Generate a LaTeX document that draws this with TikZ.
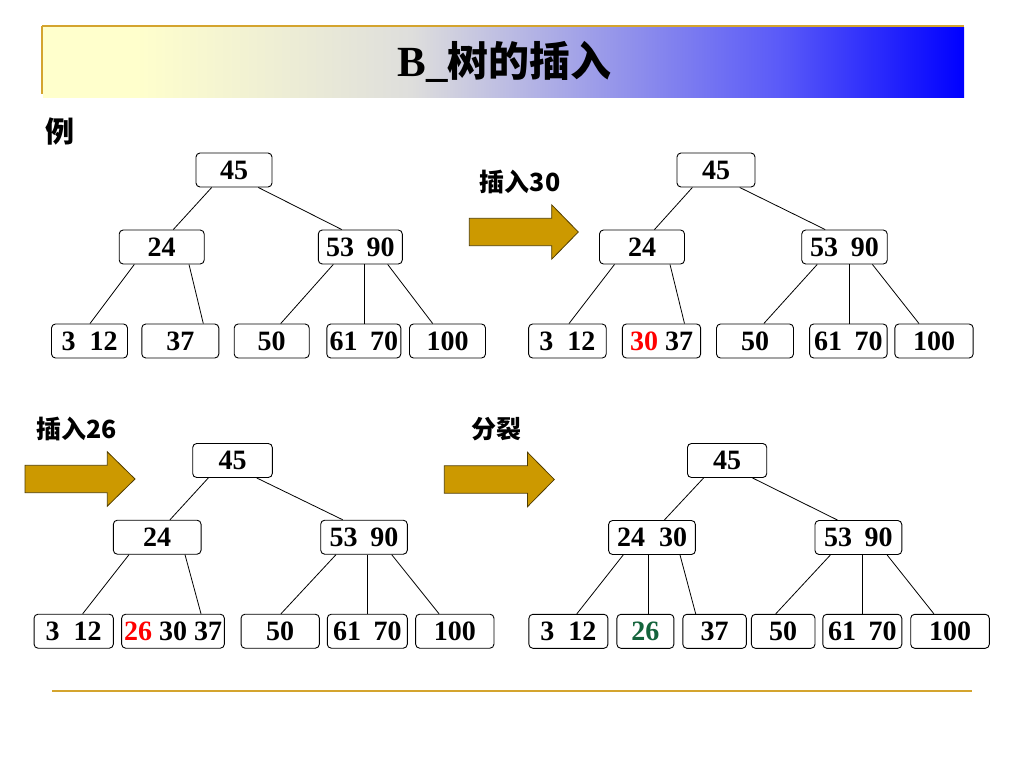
\documentclass[tikz,border=0pt]{standalone}
\usepackage{fontspec}
\setmainfont{Liberation Serif}
\newfontfamily\cjk{Noto Sans CJK SC}
\definecolor{goldline}{RGB}{212,164,46}
\definecolor{arrfill}{RGB}{204,153,0}
\definecolor{arrdraw}{RGB}{80,60,0}
\definecolor{newred}{RGB}{255,0,0}
\definecolor{newgreen}{RGB}{20,100,60}
\definecolor{tb0}{RGB}{255,255,204}
\definecolor{tb1}{RGB}{222,222,220}
\definecolor{tb2}{RGB}{140,140,236}
\definecolor{tb3}{RGB}{90,90,248}
\definecolor{tb4}{RGB}{0,0,255}
\pgfdeclarehorizontalshading{tbar}{100bp}{color(0bp)=(tb0); color(25bp)=(tb0); color(30bp)=(tb0); color(45bp)=(tb1); color(57.5bp)=(tb2); color(65bp)=(tb3); color(75bp)=(tb4); color(100bp)=(tb4)}
\newcommand\nf{\fontsize{28}{32}\selectfont\bfseries}
\newcommand\gap{\hspace{0.45em}}
\newcommand\wgap{\hspace{0.5em}}
\newcommand\edg[4]{\draw[link] ([xshift=#2pt]#1.south) -- ([xshift=#4pt]#3.north);}
\tikzset{
  key/.style={draw=black, line width=0.9pt, rounded corners=4pt, fill=white,
    minimum height=34pt, inner sep=0pt, font=\nf},
  link/.style={draw=black, line width=0.8pt},
  barrow/.style={fill=arrfill, draw=arrdraw, line width=0.8pt, line join=miter},
  lbl/.style={font=\cjk\bfseries\fontsize{25}{28}\selectfont, inner sep=0pt}
}
\begin{document}
\begin{tikzpicture}[x=1pt,y=-1pt]
\useasboundingbox (0,0) rectangle (1024,768);
% title bar
\shade[shading=tbar] (43,27.5) rectangle (964,97.7);
\draw[goldline, line width=2.5pt] (42,25.8) -- (964,25.8);
\draw[goldline, line width=2pt] (42,25.8) -- (42,94);
\node[inner sep=0pt] (title) at (504.5,62) {{\fontsize{43}{48}\selectfont\bfseries B\_}{\cjk\bfseries\fontsize{41}{48}\selectfont 树的插入}};
\node[font=\cjk\bfseries\fontsize{29}{32}\selectfont, inner sep=0pt] (li) at (60,131) {例};
% bottom line
\draw[goldline, line width=2pt] (52,691) -- (972,691);

% ---------- tree A ----------
\node[key, minimum width=76pt] (a45) at (234,170) {45};
\node[key, minimum width=85pt] (a24) at (161.7,247) {24};
\node[key, minimum width=84pt] (a53) at (360.3,247) {53\gap 90};
\node[key, minimum width=76pt] (a312) at (89.5,341) {3\wgap 12};
\node[key, minimum width=77pt] (a37) at (180.3,341) {37};
\node[key, minimum width=75pt] (a50) at (271.7,341) {50};
\node[key, minimum width=74pt] (a61) at (363.8,341) {61\gap 70};
\node[key, minimum width=76pt] (a100) at (447.5,341) {100};
\edg{a45}{-22.3}{a24}{11.6}
\edg{a45}{24.3}{a53}{-18.6}
\edg{a24}{-27.4}{a312}{0.5}
\edg{a24}{27.3}{a37}{23}
\edg{a53}{-27}{a50}{9}
\edg{a53}{4}{a61}{0.5}
\edg{a53}{27.4}{a100}{-14.8}

% arrow 1 + label
\draw[barrow] (469.3,232) ++(0,-13.7) -- ++(82.4,0) -- ++(0,-13.5) -- ++(26.6,27.2) -- ++(-26.6,27.2) -- ++(0,-13.5) -- ++(-82.4,0) -- cycle;
\node[lbl] (l30) at (520,182) {插入30};

% ---------- tree B ----------
\node[key, minimum width=78pt] (b45) at (716,170) {45};
\node[key, minimum width=85pt] (b24) at (642,247) {24};
\node[key, minimum width=85.5pt] (b53) at (844.5,247) {53\gap 90};
\node[key, minimum width=77.6pt] (b312) at (567.4,341) {3\wgap 12};
\node[key, minimum width=78.3pt] (b3037) at (661.5,341) {\textcolor{newred}{30} 37};
\node[key, minimum width=77pt] (b50) at (755,341) {50};
\node[key, minimum width=77.5pt] (b61) at (848.4,341) {61\gap 70};
\node[key, minimum width=78.3pt] (b100) at (934,341) {100};
\edg{b45}{-23.6}{b24}{12.5}
\edg{b45}{23.7}{b53}{-19.3}
\edg{b24}{-27.5}{b312}{1.6}
\edg{b24}{28}{b3037}{23}
\edg{b53}{-27.3}{b50}{8.8}
\edg{b53}{4.5}{b61}{0.6}
\edg{b53}{27.9}{b100}{-15}

% arrow 2 + label
\draw[barrow] (25,479) ++(0,-13.7) -- ++(82.3,0) -- ++(0,-13.5) -- ++(27.7,27.2) -- ++(-27.7,27.2) -- ++(0,-13.5) -- ++(-82.3,0) -- cycle;
\node[lbl] (l26) at (76.5,429) {插入26};

% ---------- tree C ----------
\node[key, minimum width=79.6pt] (c45) at (232.5,460.5) {45};
\node[key, minimum width=87.7pt] (c24) at (157.2,537.2) {24};
\node[key, minimum width=86.6pt] (c53) at (364,537.2) {53\gap 90};
\node[key, minimum width=79.3pt] (c312) at (73.7,631.2) {3\wgap 12};
\node[key, minimum width=102.7pt] (c263037) at (173,631.2) {\textcolor{newred}{26} 30 37};
\node[key, minimum width=78.3pt] (c50) at (280.2,631.2) {50};
\node[key, minimum width=80pt] (c61) at (367.3,631.2) {61\gap 70};
\node[key, minimum width=78.3pt] (c100) at (454.8,631.2) {100};
\edg{c45}{-24.2}{c24}{12.8}
\edg{c45}{24.2}{c53}{-21.3}
\edg{c24}{-28.2}{c312}{9}
\edg{c24}{27.8}{c263037}{28}
\edg{c53}{-28}{c50}{0.8}
\edg{c53}{3.7}{c61}{0.4}
\edg{c53}{27.7}{c100}{-15.8}

% arrow 3 + label
\draw[barrow] (444.3,479.5) ++(0,-13.7) -- ++(83.2,0) -- ++(0,-13.5) -- ++(26.8,27.2) -- ++(-26.8,27.2) -- ++(0,-13.5) -- ++(-83.2,0) -- cycle;
\node[lbl] (lsplit) at (496,429) {分裂};

% ---------- tree D ----------
\node[key, minimum width=79.3pt] (d45) at (727.1,460.5) {45};
\node[key, minimum width=86.8pt] (d2430) at (652,537.5) {24\wgap 30};
\node[key, minimum width=86.8pt] (d53) at (858.4,537.5) {53\gap 90};
\node[key, minimum width=79pt] (d312) at (568.4,631.3) {3\wgap 12};
\node[key, minimum width=57pt] (d26) at (645.4,631.3) {\textcolor{newgreen}{26}};
\node[key, minimum width=63.5pt] (d37) at (714.6,631.3) {37};
\node[key, minimum width=63.6pt] (d50) at (783.2,631.3) {50};
\node[key, minimum width=79pt] (d61) at (862.3,631.3) {61\gap 70};
\node[key, minimum width=78.6pt] (d100) at (950,631.3) {100};
\edg{d45}{-23.5}{d2430}{12.3}
\edg{d45}{25.4}{d53}{-20.9}
\edg{d2430}{-28.8}{d312}{8.4}
\edg{d2430}{-3.8}{d26}{2.8}
\edg{d2430}{28}{d37}{-18.9}
\edg{d53}{-28}{d50}{-7.5}
\edg{d53}{4.1}{d61}{0.2}
\edg{d53}{28.7}{d100}{-16.1}
\end{tikzpicture}
\end{document}
